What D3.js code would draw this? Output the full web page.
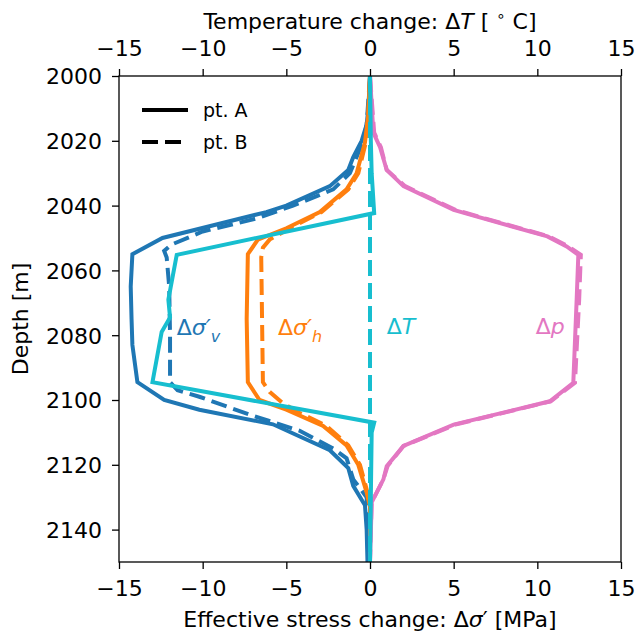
<!DOCTYPE html>
<html>
<head>
<meta charset="utf-8">
<script src="https://cdn.jsdelivr.net/npm/d3@7"></script>
<style>
  body { margin: 0; background: #fff; }
  svg text { font-family: "DejaVu Sans", sans-serif; }
</style>
</head>
<body>
<div id="chart"></div>
<script>
"use strict";

// depth samples [m] and values, one pair of arrays per curve
var sigmaV_A_depth = [2000, 2010, 2015, 2020, 2025, 2029, 2034, 2040, 2042, 2050, 2055, 2065, 2075, 2083, 2094.5, 2100, 2103, 2107.5, 2115.5, 2121, 2126.5, 2132.5, 2140, 2150];
var sigmaV_A = [0, -0.1, -0.2, -0.5, -1.0, -1.3, -2.4, -5.0, -6.2, -12.4, -14.2, -14.3, -14.25, -14.2, -13.9, -12.3, -10.2, -5.8, -2.4, -1.3, -1.0, -0.3, -0.2, -0.15];

var sigmaV_B_depth = [2000, 2015, 2020, 2025, 2030, 2035, 2040, 2044, 2048, 2052, 2054, 2056, 2065, 2080, 2094.5, 2097, 2099, 2104.5, 2109.5, 2115, 2118, 2124.5, 2130, 2150];
var sigmaV_B = [0, -0.2, -0.4, -0.8, -1.2, -2.2, -4.6, -6.8, -10.0, -11.85, -12.3, -12.15, -12.0, -11.95, -11.95, -11.5, -10.2, -7.2, -4.2, -2.2, -1.4, -1.0, -0.2, -0.1];

var sigmaH_A_depth = [2000, 2012, 2020.5, 2030, 2035, 2042, 2047, 2050.5, 2055, 2075, 2094.5, 2100, 2103, 2108, 2114, 2120, 2128.5, 2133, 2150];
var sigmaH_A = [0, -0.1, -0.3, -0.8, -1.4, -3.0, -5.0, -6.7, -7.3, -7.37, -7.3, -6.6, -5.0, -2.8, -1.4, -0.7, -0.2, 0, 0];

var sigmaH_B_depth = [2000, 2012, 2020.5, 2030, 2035, 2042, 2047, 2050.5, 2053, 2056, 2094.5, 2097.5, 2101, 2104, 2108, 2114, 2120, 2128.5, 2133, 2150];
var sigmaH_B = [0, -0.1, -0.25, -0.7, -1.3, -2.9, -4.8, -6.0, -6.4, -6.5, -6.4, -6.0, -5.2, -4.2, -2.6, -1.3, -0.6, -0.15, 0, 0];

var dp_A_depth = [2000, 2017.5, 2022, 2029, 2034, 2041.3, 2043.4, 2049.5, 2052.6, 2055.2, 2069, 2094.7, 2100.4, 2107.6, 2114.2, 2120.4, 2124.5, 2131.6, 2150];
var dp_A = [0, 0.2, 0.6, 1.0, 2.0, 5.0, 6.4, 10.6, 11.75, 12.45, 12.35, 12.15, 10.75, 5.0, 2.0, 1.0, 0.8, 0.1, 0];

var dp_B_depth = [2000, 2017.5, 2022, 2029, 2034, 2041.3, 2043.4, 2049.5, 2052.6, 2055.2, 2069, 2094.7, 2100.4, 2107.6, 2114.2, 2120.4, 2124.5, 2131.6, 2150];
var dp_B = [0, 0.25, 0.65, 1.0, 2.1, 5.1, 6.5, 10.7, 11.85, 12.6, 12.5, 12.25, 10.8, 5.1, 2.0, 1.05, 0.8, 0.1, 0];

var dT_A_depth = [2000, 2020, 2030, 2042.3, 2055.2, 2069, 2074.5, 2079, 2094.5, 2107, 2110, 2150];
var dT_A = [0, 0.05, 0.1, 0.25, -11.55, -12.05, -11.95, -12.45, -13.0, 0.25, 0.1, 0];

var dT_B_depth = [2000, 2150];
var dT_B = [0, 0];

var xTicks = [-15, -10, -5, 0, 5, 10, 15];
var yTicks = [2000, 2020, 2040, 2060, 2080, 2100, 2120, 2140];

var colors = { v: "#1f77b4", h: "#ff7f0e", p: "#e377c2", T: "#17becf" };

var margin = { top: 76, right: 15, bottom: 72, left: 119 },
    width = 621 - 119,
    height = 562 - 76;

var svg = d3.select("#chart")
            .append("svg")
            .attr("width", 636)
            .attr("height", 634);

var g = svg.append("g")
           .attr("transform", "translate(" + margin.left + "," + margin.top + ")");

// Scales
var xscale = d3.scaleLinear().domain([-15, 15]).range([0, width]);
var tscale = d3.scaleLinear().domain([-15, 15]).range([0, width]);
var yscale = d3.scaleLinear().domain([2000, 2150]).range([0, height]);

g.append("clipPath").attr("id", "clip")
 .append("rect").attr("width", width).attr("height", height);

var fmt = function (d) { return d < 0 ? "\u2212" + Math.abs(d) : "" + d; };

var xaxis = d3.axisBottom(xscale).tickValues(xTicks).tickFormat(fmt).tickSize(7).tickPadding(7);
var taxis = d3.axisTop(tscale).tickValues(xTicks).tickFormat(fmt).tickSize(7).tickPadding(7);
var yaxis = d3.axisLeft(yscale).tickValues(yTicks).tickFormat(d3.format("d"))
              .tickSizeInner(7).tickSizeOuter(0).tickPadding(9);

var styleAxis = function (sel) {
  sel.select(".domain").remove();
  sel.selectAll(".tick line").attr("stroke", "#000").attr("stroke-width", 1.3);
  sel.selectAll(".tick text").style("font-size", "22px").style("fill", "#000");
};

g.append("g").attr("transform", "translate(0," + height + ")").call(xaxis).call(styleAxis)
 .selectAll(".tick text").attr("dy", null).attr("y", 33.5);
g.append("g").call(taxis).call(styleAxis)
 .selectAll(".tick text").attr("y", -20);
g.append("g").call(yaxis).call(styleAxis)
 .selectAll(".tick text").attr("dy", "0.36em").attr("x", -17);

// curves
var makeLine = function (scale, depths) {
  return d3.line()
           .x(function (d) { return scale(d); })
           .y(function (d, i) { return yscale(depths[i]); });
};

var curves = [
  { vals: sigmaV_A, depth: sigmaV_A_depth, color: colors.v, dash: null, scale: xscale },
  { vals: sigmaV_B, depth: sigmaV_B_depth, color: colors.v, dash: "16,7", scale: xscale },
  { vals: sigmaH_A, depth: sigmaH_A_depth, color: colors.h, dash: null, scale: xscale },
  { vals: sigmaH_B, depth: sigmaH_B_depth, color: colors.h, dash: "16,7", scale: xscale },
  { vals: dp_A, depth: dp_A_depth, color: colors.p, dash: null, scale: xscale },
  { vals: dp_B, depth: dp_B_depth, color: colors.p, dash: "16,7", scale: xscale },
  { vals: dT_A, depth: dT_A_depth, color: colors.T, dash: null, scale: tscale },
  { vals: dT_B, depth: dT_B_depth, color: colors.T, dash: "16,7", scale: tscale }
];

var plot = g.append("g").attr("clip-path", "url(#clip)");
curves.forEach(function (c) {
  plot.append("path")
      .attr("d", makeLine(c.scale, c.depth)(c.vals))
      .attr("fill", "none")
      .attr("stroke", c.color)
      .attr("stroke-width", 4)
      .attr("stroke-linejoin", "miter")
      .attr("stroke-dasharray", c.dash);
});

// frame
g.append("rect")
 .attr("width", width).attr("height", height)
 .attr("fill", "none").attr("stroke", "#000").attr("stroke-width", 1.3);

// inline curve labels
var lab = g.append("g").style("font-size", "22px");
var addSigma = function (x, color, sub) {
  var t = lab.append("text").attr("x", x).attr("y", 259).style("fill", color);
  t.append("tspan").text("\u0394");
  t.append("tspan").attr("font-style", "italic").text("\u03c3\u2032");
  t.append("tspan").attr("font-style", "italic").style("font-size", "16px")
   .attr("dx", 0).attr("dy", 7).text(sub);
};
addSigma(xscale(-11.55), colors.v, "v");
addSigma(xscale(-5.5), colors.h, "h");

var t3 = lab.append("text").attr("x", tscale(1.0)).attr("y", 258).style("fill", colors.T);
t3.append("tspan").text("\u0394");
t3.append("tspan").attr("font-style", "italic").text("T");

var t4 = lab.append("text").attr("x", xscale(9.9)).attr("y", 258).style("fill", colors.p);
t4.append("tspan").text("\u0394");
t4.append("tspan").attr("font-style", "italic").text("p");

// legend
var leg = g.append("g").attr("transform", "translate(23,34)");
leg.append("line").attr("x1", 0).attr("x2", 46).attr("y1", 0).attr("y2", 0)
   .attr("stroke", "#000").attr("stroke-width", 4);
leg.append("line").attr("x1", 0).attr("x2", 46).attr("y1", 32).attr("y2", 32)
   .attr("stroke", "#000").attr("stroke-width", 4).attr("stroke-dasharray", "16,7");
leg.append("text").attr("x", 61).attr("y", 7).style("font-size", "19px").text("pt. A");
leg.append("text").attr("x", 61).attr("y", 39).style("font-size", "19px").text("pt. B");

// axis titles
var xt = svg.append("text").attr("x", 370).attr("y", 627).attr("text-anchor", "middle").style("font-size", "22px");
xt.append("tspan").text("Effective stress change: \u0394");
xt.append("tspan").attr("font-style", "italic").text("\u03c3");
xt.append("tspan").text("\u2032 [MPa]");

var tt = svg.append("text").attr("x", 370).attr("y", 29).attr("text-anchor", "middle").style("font-size", "22px");
tt.append("tspan").text("Temperature change: \u0394");
tt.append("tspan").attr("font-style", "italic").text("T");
tt.append("tspan").text(" [ ");
tt.append("tspan").style("font-size", "15px").attr("dy", -8).text("\u2218");
tt.append("tspan").attr("dy", 8).text(" C]");

svg.append("text")
   .attr("transform", "translate(28,319) rotate(-90)")
   .attr("text-anchor", "middle")
   .style("font-size", "22px")
   .text("Depth [m]");
</script>
</body>
</html>
